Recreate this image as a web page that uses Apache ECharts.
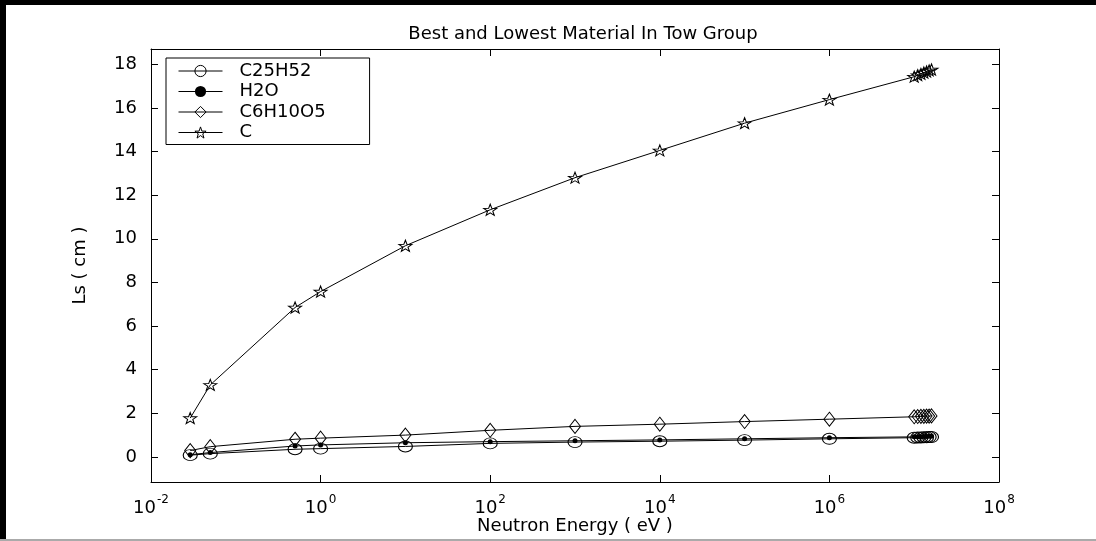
<!DOCTYPE html>
<html>
<head>
<meta charset="utf-8">
<script src="https://cdn.jsdelivr.net/npm/echarts@6/dist/echarts.min.js"></script>
<style>
html,body{margin:0;padding:0;background:#fff;}
#chart{width:1096px;height:541px;}
</style>
</head>
<body>
<div id="chart"></div>
<script>
// ---- data ----
const energies = [0.029, 0.05, 0.5, 1, 10, 100, 1000, 1e4, 1e5, 1e6, 1e7, 1.1e7, 1.2e7, 1.3e7, 1.4e7, 1.5e7, 1.6e7];
const seriesNames = ['C25H52', 'H2O', 'C6H10O5', 'C'];
const c25h52 = [0.08, 0.15, 0.35, 0.38, 0.48, 0.62, 0.68, 0.72, 0.77, 0.83, 0.88, 0.89, 0.89, 0.90, 0.90, 0.91, 0.91];
const h2o = [0.10, 0.20, 0.50, 0.55, 0.65, 0.70, 0.74, 0.78, 0.83, 0.88, 0.92, 0.93, 0.93, 0.94, 0.94, 0.95, 0.95];
const c6h10o5 = [0.29, 0.47, 0.81, 0.86, 1.00, 1.22, 1.40, 1.50, 1.62, 1.73, 1.84, 1.85, 1.86, 1.86, 1.87, 1.87, 1.88];
const carbon = [1.78, 3.30, 6.85, 7.58, 9.68, 11.33, 12.80, 14.05, 15.30, 16.38, 17.43, 17.50, 17.56, 17.62, 17.67, 17.72, 17.76];
const yTicks = [0, 2, 4, 6, 8, 10, 12, 14, 16, 18];
const titleText = 'Best and Lowest Material In Tow Group';
const xName = 'Neutron Energy ( eV )';
const yName = 'Ls ( cm )';

const FONT = 'DejaVu Sans';
const starPath = 'path://M0,-10 L2.35,-3.24 L9.51,-3.09 L3.8,1.24 L5.88,8.09 L0,4 L-5.88,8.09 L-3.8,1.24 L-9.51,-3.09 L-2.35,-3.24 Z';

function pairs(ys) { return energies.map((e, i) => [e, ys[i]]); }

const hollow = { color: 'rgba(255,255,255,0)', borderColor: '#000', borderWidth: 1 };
const solid = { color: '#000', borderColor: '#000', borderWidth: 0 };
const seriesDefs = [
  { name: seriesNames[0], data: c25h52, symbol: 'circle', symbolSize: [14, 11], itemStyle: hollow },
  { name: seriesNames[1], data: h2o, symbol: 'circle', symbolSize: 5, itemStyle: solid },
  { name: seriesNames[2], data: c6h10o5, symbol: 'diamond', symbolSize: [11, 14], itemStyle: hollow },
  { name: seriesNames[3], data: carbon, symbol: starPath, symbolSize: [13, 11], itemStyle: hollow }
];

const chart = echarts.init(document.getElementById('chart'), null, { renderer: 'canvas' });

const axisLineStyle = { color: '#000', width: 1 };

chart.setOption({
  animation: false,
  backgroundColor: '#fff',
  title: {
    text: titleText,
    left: 578, top: 20, textAlign: 'center',
    textStyle: { fontFamily: FONT, fontSize: 18, fontWeight: 'normal', color: '#000' }
  },
  legend: {
    orient: 'vertical',
    left: 166, top: 58,
    padding: [4, 44, 3, 12],
    itemWidth: 44, itemHeight: 14, itemGap: 2.5,
    borderColor: '#000', borderWidth: 1,
    backgroundColor: '#fff',
    lineStyle: { width: 1, color: '#000' },
    textStyle: { fontFamily: FONT, fontSize: 18, color: '#000', padding: [0, 0, 0, 12] },
    data: seriesDefs.map(d => ({ name: d.name, itemStyle: d.itemStyle }))
  },
  grid: { left: 151, right: 97, top: 49, bottom: 59, containLabel: false, outerBoundsMode: 'none' },
  xAxis: [{
    type: 'log', logBase: 100, min: 0.01, max: 1e8,
    position: 'bottom',
    name: xName, nameLocation: 'middle', nameGap: 35, nameMoveOverlap: false,
    nameTextStyle: { fontFamily: FONT, fontSize: 18, color: '#000' },
    axisLine: { show: true, onZero: false, lineStyle: axisLineStyle },
    axisTick: { show: true, inside: true, length: 7, lineStyle: axisLineStyle },
    splitLine: { show: false },
    minorTick: { show: false },
    axisLabel: {
      margin: 12,
      formatter: function (v) {
        const e = Math.round(Math.log10(v));
        return '{b|10}{s|' + e + '}';
      },
      rich: {
        b: { fontFamily: FONT, fontSize: 18, color: '#000', verticalAlign: 'bottom' },
        s: { fontFamily: FONT, fontSize: 12, color: '#000', verticalAlign: 'bottom', padding: [0, 0, 11, 1] }
      }
    }
  }, {
    type: 'log', logBase: 100, min: 0.01, max: 1e8,
    position: 'top',
    axisLine: { show: true, onZero: false, lineStyle: axisLineStyle },
    axisTick: { show: true, inside: true, length: 7, lineStyle: axisLineStyle },
    axisLabel: { show: false },
    splitLine: { show: false }
  }],
  yAxis: [{
    type: 'value', min: -1.15, max: 18.7,
    position: 'left',
    name: yName, nameLocation: 'middle', nameGap: 62, nameRotate: 90, nameMoveOverlap: false,
    nameTextStyle: { fontFamily: FONT, fontSize: 18, color: '#000' },
    axisLine: { show: true, onZero: false, lineStyle: axisLineStyle },
    axisTick: { show: true, inside: true, length: 7, lineStyle: axisLineStyle, customValues: yTicks },
    splitLine: { show: false },
    axisLabel: { customValues: yTicks, margin: 14, fontFamily: FONT, fontSize: 18, color: '#000' }
  }, {
    type: 'value', min: -1.15, max: 18.7,
    position: 'right',
    axisLine: { show: true, onZero: false, lineStyle: axisLineStyle },
    axisTick: { show: true, inside: true, length: 7, lineStyle: axisLineStyle, customValues: yTicks },
    axisLabel: { show: false, customValues: yTicks },
    splitLine: { show: false }
  }],
  series: seriesDefs.map(d => ({
    type: 'line',
    name: d.name,
    xAxisIndex: 0, yAxisIndex: 0,
    data: pairs(d.data),
    symbol: d.symbol,
    symbolSize: d.symbolSize,
    showAllSymbol: true,
    itemStyle: d.itemStyle,
    lineStyle: { color: '#000', width: 1 },
    emphasis: { disabled: true },
    clip: false
  })),
  graphic: [
    { type: 'rect', shape: { x: 0, y: 0, width: 1096, height: 5 }, style: { fill: '#000' }, silent: true },
    { type: 'rect', shape: { x: 0, y: 0, width: 6, height: 541 }, style: { fill: '#000' }, silent: true },
    { type: 'rect', shape: { x: 0, y: 539, width: 1096, height: 2 }, style: { fill: '#aaa' }, silent: true }
  ]
});
</script>
</body>
</html>
